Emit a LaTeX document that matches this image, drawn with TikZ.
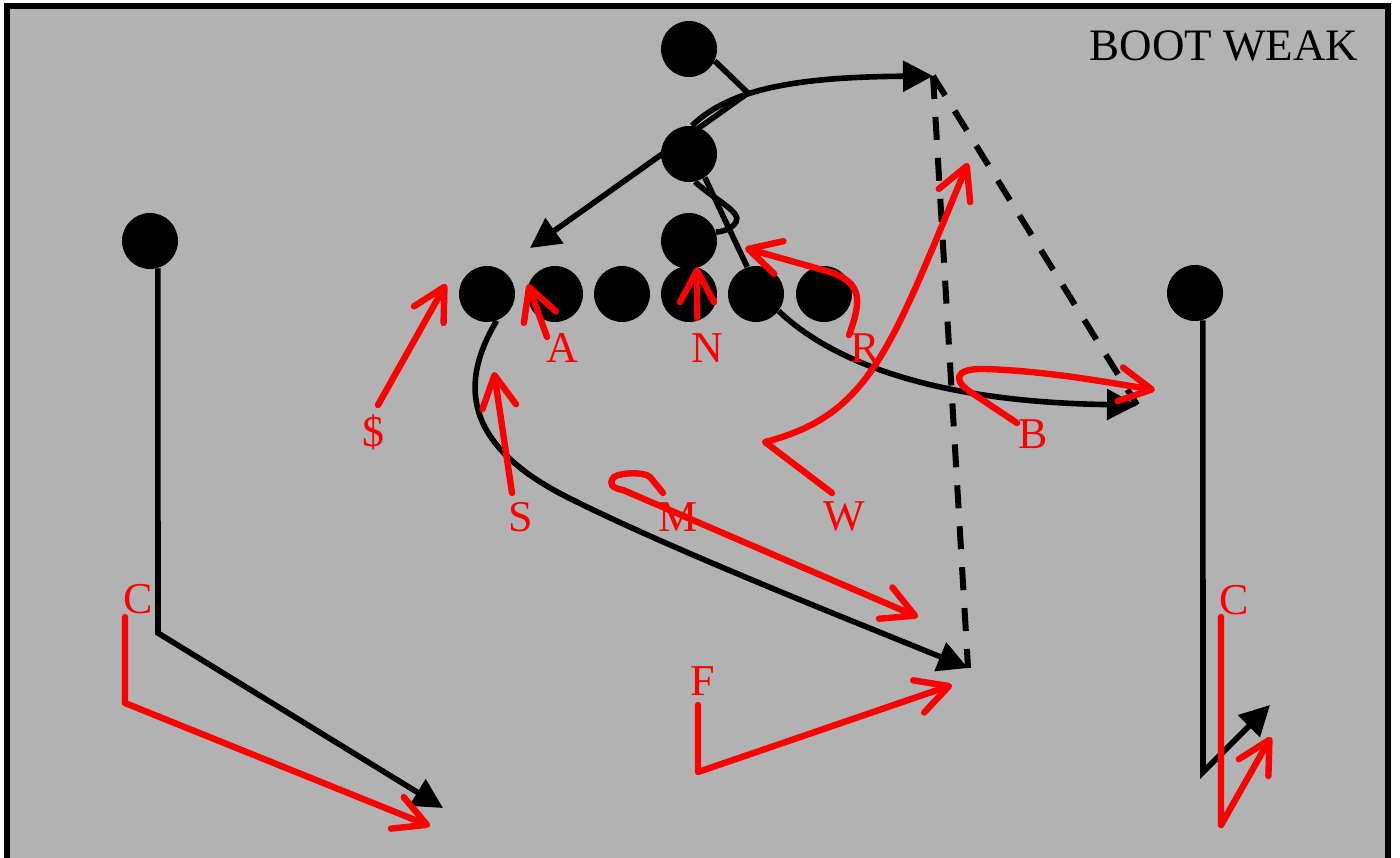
\documentclass[tikz,border=0pt]{standalone}
\usepackage{fontspec}
\setmainfont{Liberation Serif}
\usetikzlibrary{arrows.meta}
\definecolor{field}{RGB}{178,178,178}
\begin{document}
\begin{tikzpicture}[x=0.5pt,y=-0.5pt,
 player/.style={circle,fill=black,minimum size=28pt,inner sep=0pt},
 blk/.style={line width=2.8pt,black},
 blkarrow/.style={blk,-{Triangle[length=15pt,width=15pt]}},
 dashline/.style={line width=3pt,black,dash pattern=on 11.5pt off 9pt},
 redroute/.style={line width=3.2pt,red,line cap=round,line join=round,-{Straight Barb[length=16pt,width=17pt,round]}},
 lbl/.style={red,font=\fontsize{22}{26}\selectfont,anchor=base,inner sep=0pt},
 ttl/.style={black,font=\fontsize{22.5}{27}\selectfont,anchor=base,inner sep=0pt}
]
\useasboundingbox (0,0) rectangle (1400,857);
\fill[white] (0,0) rectangle (1400,857);
\begin{scope}
\clip (0,0) rectangle (1400,857);
\draw[fill=field,line width=3pt] (6.5,6) rectangle (1388,900);
\end{scope}
\node[ttl] (title) at (1224,60) {BOOT WEAK};
% players
\node[player] (q1) at (689,49) {};
\node[player] (c2) at (689,154) {};
\node[player] (c3) at (689,241) {};
\node[player] (l1) at (487,294) {};
\node[player] (l2) at (555,294) {};
\node[player] (l3) at (622,294) {};
\node[player] (l4) at (689,294) {};
\node[player] (l5) at (756,294) {};
\node[player] (l6) at (824,294) {};
\node[player] (wl) at (150,241) {};
\node[player] (wr) at (1195,293) {};
\coordinate (j) at (748,93);
\coordinate (tipT) at (933,76);
\coordinate (tipR) at (1137,405);
\coordinate (tipB) at (968,668);
\coordinate (tipL) at (530,248);
% black routes
\draw[blk] (q1.-25) -- (j);
\draw[blkarrow] (j) -- (tipL);
\draw[blkarrow] (c2.84) .. controls (730,88) and (800,77) .. (tipT);
\draw[blk] (c2.-56) -- (l5.108);
\draw[blkarrow] (l5.-37) .. controls (830,360) and (930,402) .. (tipR);
\draw[blk] (c2.-78) .. controls (715,200) and (742,212) .. (736,222) .. controls (732,229) and (724,231) .. (c3.18);
\draw[blkarrow] (l1.-70) .. controls (455,390) and (470,450) .. (573,500) .. controls (673,550) and (850,620) .. (tipB);
\draw[blkarrow] (wl.-74) -- (158,633) -- (443,808);
\draw[blkarrow] (wr.-74) -- (1203,772) -- (1270,705);
\draw[dashline] (tipT) -- (tipB);
\draw[dashline] (tipT) -- (tipR);
% red routes
\draw[redroute] (378,405) -- (446,284);
\draw[redroute] (547,337) -- (528,284);
\draw[redroute] (697,318) -- (697,267);
\draw[redroute] (849,335) .. controls (862,300) and (862,283) .. (830,272) -- (745,248);
\draw[redroute] (832,493) -- (765,442) .. controls (870,415) and (890,350) .. (968,163);
\draw[redroute] (1017,423) -- (975,395) .. controls (950,380) and (955,368) .. (985,369) .. controls (1045,371) and (1100,381) .. (1155,390);
\draw[redroute] (512,493) -- (494,372);
\draw[redroute] (663,493) -- (650,477) .. controls (645,472) and (622,472) .. (614,477) .. controls (608,484) and (612,488) .. (623,490) -- (918,617);
\draw[redroute] (698,705) -- (698,772) -- (952,685);
\draw[redroute] (125,617) -- (125,703) -- (430,826);
\draw[redroute] (1221,617) -- (1221,825) -- (1271,737);
% labels
\node[lbl] (ldollar) at (373,446) {\$};
\node[lbl] (lA) at (562,362) {A};
\node[lbl] (lN) at (707,362) {N};
\node[lbl] (lR) at (865,362) {R};
\node[lbl] (lW) at (844,530) {W};
\node[lbl] (lB) at (1033,448) {B};
\node[lbl] (lS) at (521,531) {S};
\node[lbl] (lM) at (678,531) {M};
\node[lbl] (lF) at (703,695) {F};
\node[lbl] (lCl) at (138,613) {C};
\node[lbl] (lCr) at (1234,614) {C};
\end{tikzpicture}
\end{document}
